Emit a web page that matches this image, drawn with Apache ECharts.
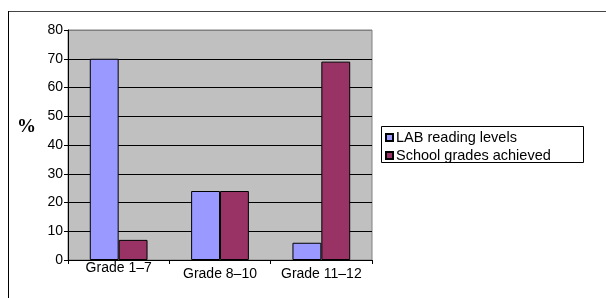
<!DOCTYPE html>
<html><head><meta charset="utf-8">
<script src="https://cdn.jsdelivr.net/npm/echarts@6/dist/echarts.min.js"></script>
<style>html,body{margin:0;padding:0;background:#fff}#c{width:606px;height:298px}</style>
</head><body><div id="c"></div>
<script>
const categories = ['Grade 1\u20137', 'Grade 8\u201310', 'Grade 11\u201312'];
const labReading = [70, 24, 6];
const schoolGrades = [7, 24, 69];
const seriesNames = ['LAB reading levels', 'School grades achieved'];
const yTicks = [0, 10, 20, 30, 40, 50, 60, 70, 80];

const chart = echarts.init(document.getElementById('c'), null, {renderer: 'canvas'});
const font = 'Liberation Sans, Arial, sans-serif';
const splitColors = yTicks.map((t, i) => i === yTicks.length - 1 ? '#808080' : '#000000');
chart.setOption({
  animation: false,
  backgroundColor: '#ffffff',
  textStyle: {fontFamily: font},
  title: {
    text: '%', left: 17, top: 118, padding: 0,
    textStyle: {fontFamily: 'Liberation Serif, Times New Roman, serif', fontWeight: 'bold', fontSize: 19, color: '#000'}
  },
  graphic: [
    {type: 'line', shape: {x1: 8, y1: 11.5, x2: 606, y2: 11.5}, style: {stroke: '#444', lineWidth: 1}, z: 100},
    {type: 'line', shape: {x1: 8.5, y1: 11, x2: 8.5, y2: 298}, style: {stroke: '#000', lineWidth: 1}, z: 100},
    {type: 'rect', shape: {x: 381.5, y: 126.5, width: 202, height: 36}, style: {fill: 'none', stroke: '#000', lineWidth: 1}, z: 100}
  ],
  legend: {
    orient: 'vertical', left: 385, top: 130,
    itemWidth: 7, itemHeight: 7, itemGap: 3, padding: 0,
    icon: 'rect',
    textStyle: {fontSize: 14.5, color: '#000', fontFamily: font, padding: [0, 0, 0, -2]},
    data: seriesNames
  },
  grid: {left: 68, right: 234, top: 30, bottom: 38, show: true, backgroundColor: '#C0C0C0', borderColor: '#808080', borderWidth: 1},
  xAxis: {
    type: 'category', data: categories,
    axisLine: {lineStyle: {color: '#000', width: 1}},
    axisTick: {show: true, length: 4, lineStyle: {color: '#000'}},
    axisLabel: {
      interval: 0, hideOverlap: false,
      color: '#000', fontSize: 14, fontFamily: font, margin: 1,
      formatter: (v, i) => i === 0 ? '{a|' + v + '}' : '{b|' + v + '}',
      rich: {a: {fontSize: 14, color: '#000', padding: [0, 0, 0, 0]}, b: {fontSize: 14, color: '#000', padding: [6, 0, 0, 0]}}
    }
  },
  yAxis: {
    type: 'value', min: 0, max: 80, interval: 10,
    axisLine: {show: true, lineStyle: {color: '#000', width: 1}},
    axisTick: {show: true, length: 4, lineStyle: {color: '#000'}},
    axisLabel: {color: '#000', fontSize: 14, fontFamily: font, margin: 5},
    splitLine: {show: true, lineStyle: {color: splitColors, width: 1}}
  },
  series: [
    {name: seriesNames[0], type: 'bar', data: labReading, barCategoryGap: '43%', barGap: '0%',
     itemStyle: {color: '#9999FF', borderColor: '#000', borderWidth: 1}},
    {name: seriesNames[1], type: 'bar', data: schoolGrades, barCategoryGap: '43%', barGap: '0%',
     itemStyle: {color: '#993366', borderColor: '#000', borderWidth: 1}}
  ]
});
</script></body></html>
